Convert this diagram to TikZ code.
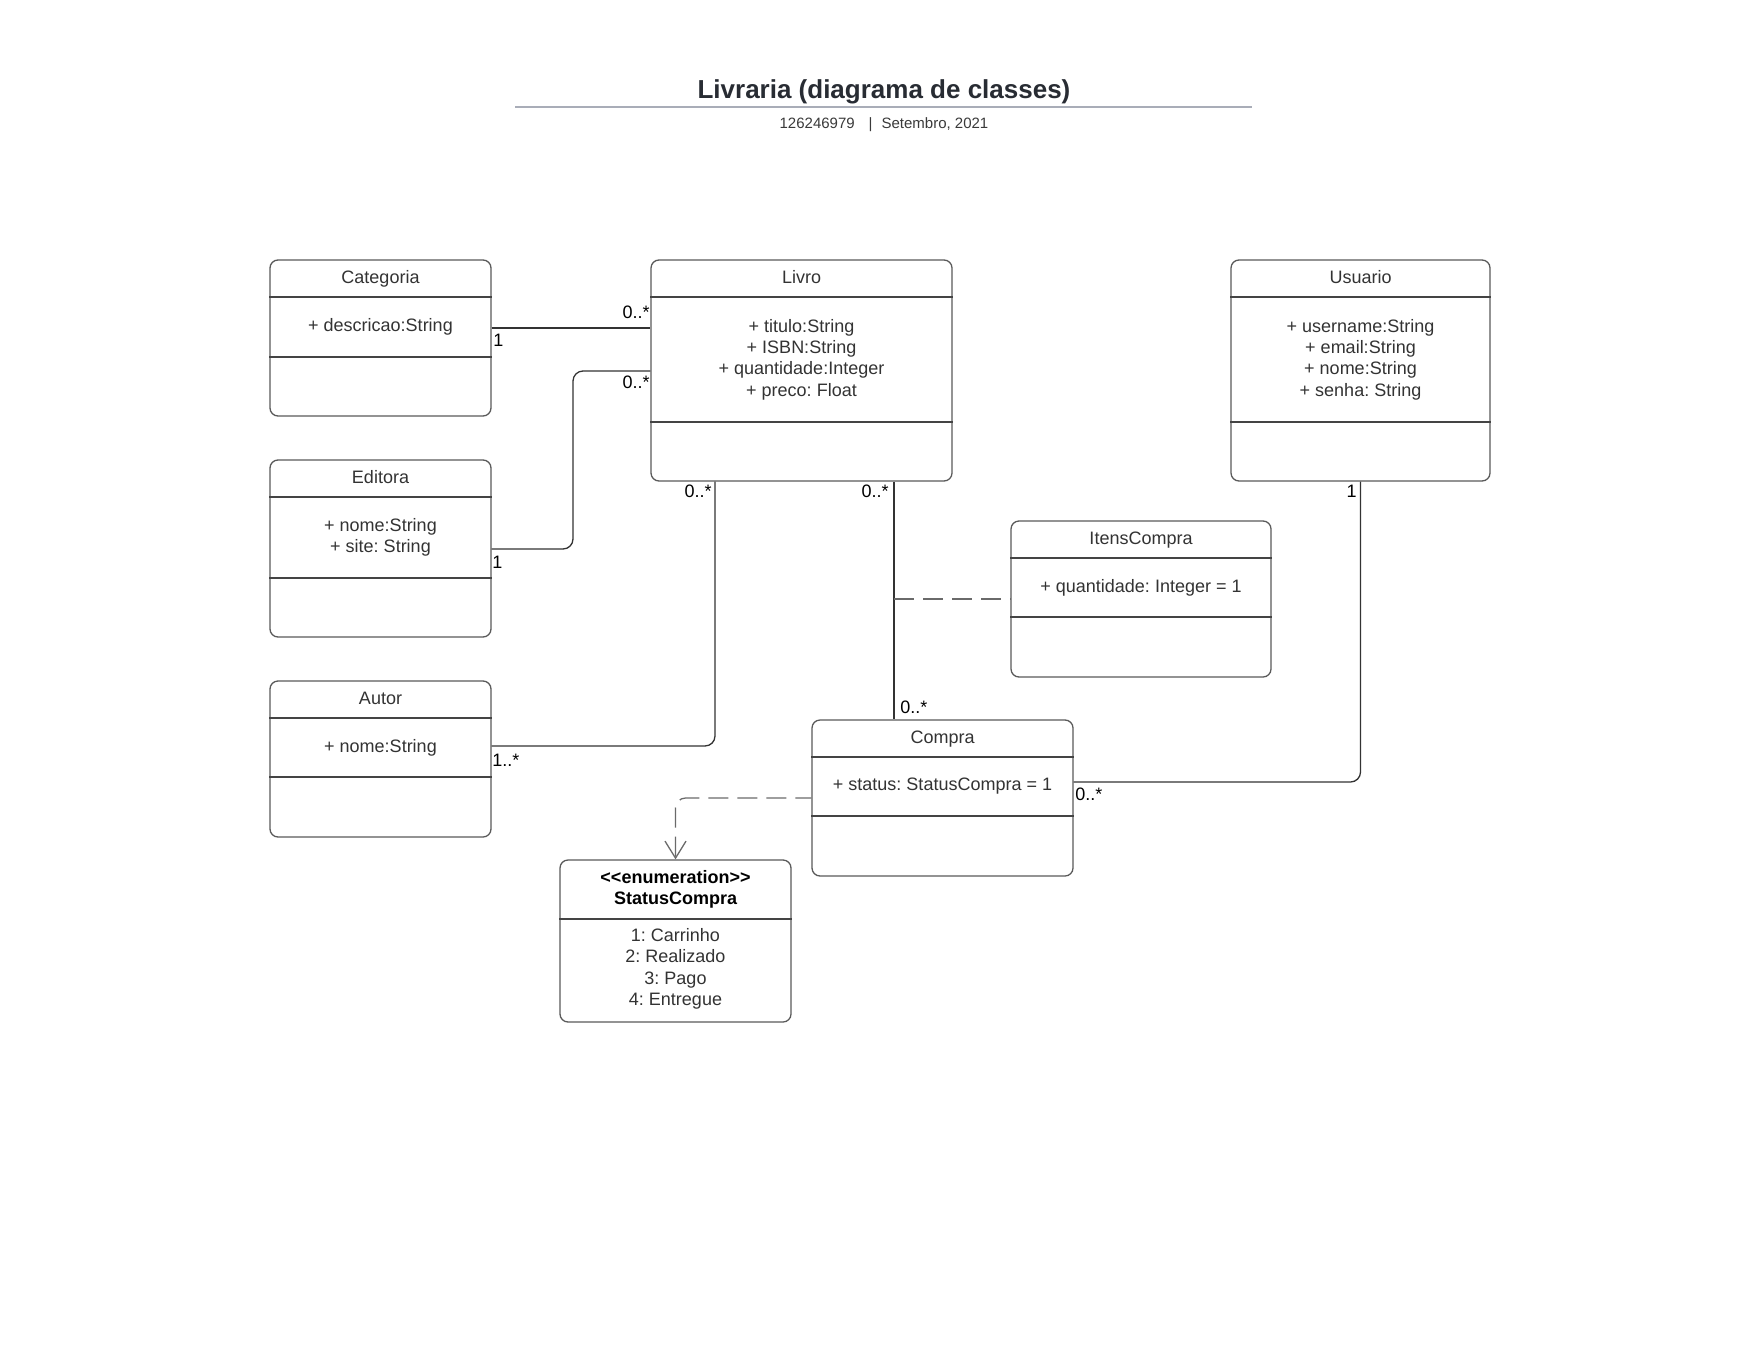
\documentclass[tikz,border=0pt]{standalone}
\usepackage{fontspec}
\setmainfont{Liberation Sans}
\usetikzlibrary{arrows.meta,fit}
\definecolor{boxline}{HTML}{5A5A5A}
\definecolor{divc}{HTML}{444444}
\definecolor{txt}{HTML}{333333}
\definecolor{connc}{HTML}{333333}
\definecolor{dashc}{HTML}{6A6A6A}
\definecolor{titlec}{HTML}{282C33}
\definecolor{rulec}{HTML}{A9ADB8}
\definecolor{subc}{HTML}{3A3A3A}
\frenchspacing
\newcommand\classbox[9]{%
  \node[umlbox, fit={(#2,#3) (#4,#5)}] (#1) {};
  \draw[divider] (#1.west |- 0,#6) -- (#1.east |- 0,#6);
  \draw[divider] (#1.west |- 0,#7) -- (#1.east |- 0,#7);
  \node[ttl] (#1-t) at ({(#2+#4)/2},{(#3+#6)/2}) {#8};
  \node[attr] (#1-a) at ({(#2+#4)/2},{(#6+#7)/2}) {#9};
}
\begin{document}
\begin{tikzpicture}[x=0.5pt,y=-0.5pt,
  umlbox/.style={draw=boxline, line width=0.65pt, rounded corners=4pt, inner sep=0pt},
  divider/.style={draw=divc, line width=0.55pt},
  ttl/.style={font=\fontsize{9}{10.7}\selectfont\frenchspacing, text=txt, inner sep=0pt, text height=6.6pt, text depth=1.9pt},
  attr/.style={font=\fontsize{9}{10.7}\selectfont\frenchspacing, text=txt, inner sep=0pt, align=center},
  lbl/.style={font=\fontsize{9}{10.7}\selectfont, text=black, inner sep=0pt},
  conn/.style={draw=connc, line width=0.65pt, rounded corners=5pt},
  dsh/.style={draw=dashc, line width=0.65pt, rounded corners=5pt, dash pattern=on 10pt off 4.5pt},
]
\useasboundingbox[fill=white] (0,0) rectangle (1759,1359);

% header
\node[font=\fontsize{13}{15}\selectfont\bfseries, text=titlec, anchor=base, inner sep=0pt] (title) at (884,98) {Livraria (diagrama de classes)};
\coordinate (ruleL) at (515,107.5);
\coordinate (ruleR) at (1252,107.5);
\draw[rulec, line width=1pt] (ruleL) -- (ruleR);
\node[font=\fontsize{7.5}{9}\selectfont, text=subc, anchor=base, inner sep=0pt] (sub) at (884,128) {126246979\hspace{7pt}|\hspace{4.5pt}Setembro, 2021};

% classes
\classbox{cat}{270}{260}{491}{416}{297}{357}{Categoria}{+ descricao:String}
\classbox{liv}{651}{260}{952}{481}{297}{422}{Livro}{+ titulo:String\\+ ISBN:String\\+ quantidade:Integer\\+ preco: Float}
\classbox{usu}{1231}{260}{1490}{481}{297}{422}{Usuario}{+ username:String\\+ email:String\\+ nome:String\\+ senha: String}
\classbox{edi}{270}{460}{491}{637}{497}{578}{Editora}{+ nome:String\\+ site: String}
\classbox{aut}{270}{681}{491}{837}{718}{777}{Autor}{+ nome:String}
\classbox{itc}{1011}{521}{1271}{677}{558}{617}{ItensCompra}{+ quantidade: Integer = 1}
\classbox{com}{812}{720}{1073}{876}{757}{816}{Compra}{+ status: StatusCompra = 1}

% enumeration
\node[umlbox, fit={(560,860) (791,1022)}] (sta) {};
\draw[divider] (sta.west |- 0,919) -- (sta.east |- 0,919);
\node[attr, font=\fontsize{9}{10.5}\selectfont\bfseries, text=black] (sta-t) at (675.5,889) {<\kern0pt<enumeration>\kern0pt>\\StatusCompra};
\node[attr] (sta-a) at (675.5,969) {1: Carrinho\\2: Realizado\\3: Pago\\4: Entregue};

% connectors
\draw[conn] (cat.east |- 0,328) -- (liv.west |- 0,328);
\draw[conn] (edi.east |- 0,549) -| (573,371) -- (liv.west |- 0,371);
\draw[conn] (aut.east |- 0,746) -| (liv.south -| 715,0);
\draw[conn] (liv.south -| 894,0) -- (com.north -| 894,0);
\coordinate (assoc) at (894,599);
\draw[dsh] (assoc) -- (itc.west |- assoc);
\draw[conn] (com.east |- 0,782) -| (usu.south);
\draw[dsh, dash phase=2pt, -{Straight Barb[length=8.5pt,width=10.5pt,line width=0.65pt]}] (com.west |- 0,798) -| (sta.north);

% multiplicities
\node[lbl, anchor=west] (m1) at (493,340) {1};
\node[lbl, anchor=east] (m2) at (650,312) {0..*};
\node[lbl, anchor=east] (m3) at (650,382) {0..*};
\node[lbl, anchor=west] (m4) at (492,562) {1};
\node[lbl, anchor=east] (m5) at (712,491) {0..*};
\node[lbl, anchor=east] (m6) at (889,491) {0..*};
\node[lbl, anchor=west] (m7) at (492,760) {1..*};
\node[lbl, anchor=west] (m8) at (900,707) {0..*};
\node[lbl, anchor=east] (m9) at (1357,491) {1};
\node[lbl, anchor=west] (m10) at (1075,794) {0..*};
\end{tikzpicture}
\end{document}
